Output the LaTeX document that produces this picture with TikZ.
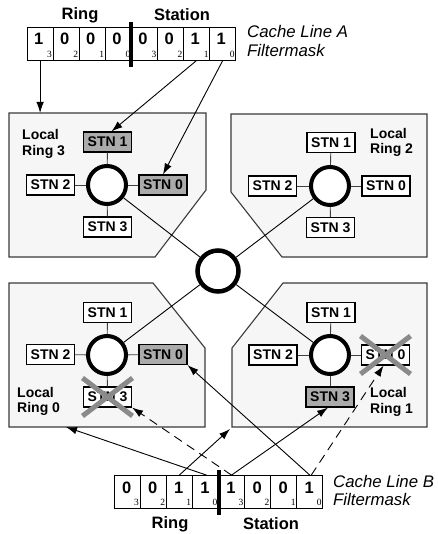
\documentclass[tikz,border=0pt]{standalone}
\usepackage{fontspec}
\setmainfont{Liberation Sans}
\newfontfamily\subserif{Liberation Serif}
\usetikzlibrary{arrows.meta,calc}
\definecolor{boxfill}{HTML}{F6F6F6}
\definecolor{boxline}{HTML}{3A3A3A}
\definecolor{stnfill}{HTML}{ABABAB}
\definecolor{xgray}{HTML}{8A8A8A}
\tikzset{
  lring/.style={draw=boxline, line width=1.1pt, fill=boxfill},
  stn/.style={draw=black, line width=1.1pt, fill=white, minimum width=48pt, minimum height=20pt, inner sep=0pt, font=\bfseries\fontsize{14}{16}\selectfont},
  stng/.style={stn, fill=stnfill},
  ringc/.style={circle, draw=black, line width=4pt, fill=white, minimum size=38pt, inner sep=0pt},
  spoke/.style={draw=black!75, line width=0.9pt},
  link/.style={draw=black, line width=0.9pt},
  arr/.style={draw=black, line width=0.9pt, -{Latex[length=11pt,width=7.5pt]}},
  darr/.style={arr, dash pattern=on 9pt off 6pt},
  xmark/.style={draw=xgray, line width=5pt},
  cell/.style={draw=black, line width=0.8pt, minimum width=26.1pt, minimum height=33pt, inner sep=0pt},
  digit/.style={font=\bfseries\fontsize{16.5}{18}\selectfont, inner sep=0pt},
  subsc/.style={font=\subserif\fontsize{9.5}{10}\selectfont, inner sep=0pt},
  hdr/.style={font=\bfseries\fontsize{16.5}{18}\selectfont, inner sep=0pt},
  lbl/.style={font=\bfseries\fontsize{14}{15}\selectfont, inner sep=0pt, anchor=base west},
  captxt/.style={font=\itshape\fontsize{16.8}{18}\selectfont, inner sep=0pt, anchor=base west},
  sepbar/.style={line width=4pt},
}
\begin{document}
\begin{tikzpicture}[x=1pt,y=-1pt]
\useasboundingbox (0,0) rectangle (437,534);

% local ring boxes
\draw[lring] (9,113) -- (206,113) -- (206,190) -- (155,257) -- (9,257) -- cycle;
\draw[lring] (231,114) -- (427,114) -- (427,257) -- (282,257) -- (231,192) -- cycle;
\draw[lring] (9,283) -- (153,283) -- (205,348) -- (205,427) -- (9,427) -- cycle;
\draw[lring] (283,283) -- (427,283) -- (427,427) -- (232,427) -- (232,348) -- cycle;

% rings
\node[ringc, minimum size=41pt, line width=4.5pt] (C) at (218,271) {};
\node[ringc] (R3) at (107,185) {};
\node[ringc] (R2) at (330,186) {};
\node[ringc] (R0) at (107,355) {};
\node[ringc] (R1) at (330,355) {};
\draw[link] (C) -- (R3);
\draw[link] (C) -- (R2);
\draw[link] (C) -- (R0);
\draw[link] (C) -- (R1);

% stations ring 3
\node[stng] (r3s1) at (107.5,142) {STN 1};
\node[stn]  (r3s2) at (50.5,185) {STN 2};
\node[stng] (r3s0) at (163,185) {STN 0};
\node[stn]  (r3s3) at (107.5,227) {STN 3};
% ring 2
\node[stn] (r2s1) at (331,142.5) {STN 1};
\node[stn] (r2s2) at (272.5,186) {STN 2};
\node[stn] (r2s0) at (386,186) {STN 0};
\node[stn] (r2s3) at (330.5,227.5) {STN 3};
% ring 0
\node[stn]  (r0s1) at (107.5,312.5) {STN 1};
\node[stn]  (r0s2) at (50.5,354.5) {STN 2};
\node[stng] (r0s0) at (163,354.5) {STN 0};
\node[stn]  (r0s3) at (107.5,397) {STN 3};
% ring 1
\node[stn]  (r1s1) at (331,312.5) {STN 1};
\node[stn]  (r1s2) at (273,355) {STN 2};
\node[stn]  (r1s0) at (385.5,355) {STN 0};
\node[stng] (r1s3) at (330,397) {STN 3};

\foreach \r in {3,2,0,1}{
  \foreach \s in {0,1,2,3}{
    \draw[spoke] (R\r) -- (r\r s\s);
  }
}

% labels
\node[lbl] (l3a) at (22,140) {Local};
\node[lbl] (l3b) at (22,156) {Ring 3};
\node[lbl] (l2a) at (370,138.5) {Local};
\node[lbl] (l2b) at (370,154) {Ring 2};
\node[lbl] (l0a) at (17,397.5) {Local};
\node[lbl] (l0b) at (17,412) {Ring 0};
\node[lbl] (l1a) at (370,397.5) {Local};
\node[lbl] (l1b) at (370,413) {Ring 1};

% register A
\foreach \i/\d/\s in {0/1/3,1/0/2,2/0/1,3/0/0,4/0/3,5/0/2,6/1/1,7/1/0}{
  \node[cell] (a\i) at ({40.1+26.1*\i},43.5) {};
  \node[digit] (da\i) at ($(a\i.center)+(-1.5,-4.5)$) {\d};
  \node[subsc] (sa\i) at ($(a\i.center)+(9.5,10.5)$) {\s};
}
\coordinate (abt) at (131,22);
\coordinate (abb) at (131,67);
\draw[sepbar] (abt) -- (abb);
\node[hdr] (ringA) at (80,15) {Ring};
\node[hdr] (statA) at (182,15) {Station};
\node[captxt] (cA1) at (247,38) {Cache Line A};
\node[captxt] (cA2) at (247,56.5) {Filtermask};

% register B
\foreach \i/\d/\s in {0/0/3,1/0/2,2/1/1,3/1/0,4/1/3,5/0/2,6/0/1,7/1/0}{
  \node[cell] (b\i) at ({127.1+26.1*\i},492) {};
  \node[digit] (db\i) at ($(b\i.center)+(-0.5,-4.5)$) {\d};
  \node[subsc] (sb\i) at ($(b\i.center)+(9.5,10.5)$) {\s};
}
\coordinate (bbt) at (219,470);
\coordinate (bbb) at (219,515);
\draw[sepbar] (bbt) -- (bbb);
\node[hdr] (ringB) at (170,524) {Ring};
\node[hdr] (statB) at (271,524) {Station};
\node[captxt] (cB1) at (333,487) {Cache Line B};
\node[captxt] (cB2) at (333,505) {Filtermask};

% arrow targets on boxes
\coordinate (r3top) at (40.1,113);
\coordinate (r0bot) at (66,427);
\coordinate (r1cor) at (230,429);

% arrows from A
\draw[arr] (a0.south) -- (r3top);
\draw[arr] (a6.south) -- ($(r3s1.north)+(4,0)$);
\draw[arr] (a7.south) -- (r3s0.north);

% arrows from B
\draw[arr] ($(b3.north)+(1,0)$) -- (r0bot);
\draw[arr] (b2.north) -- (r1cor);
\draw[darr] (b4.north) -- (r0s3.south east);
\draw[arr] (b4.north) -- ($(r1s3.south)+(-2,0)$);
\draw[arr] (b7.north) -- (r0s0.south east);
\draw[darr] ($(b7.north)+(1.5,0)$) -- ($(r1s0.south)+(-2,0)$);

% crosses
\draw[xmark] ($(r0s3.center)+(-25,-19)$) -- ($(r0s3.center)+(25,19)$);
\draw[xmark] ($(r0s3.center)+(-25,19)$) -- ($(r0s3.center)+(25,-19)$);
\draw[xmark] ($(r1s0.center)+(-25,-19)$) -- ($(r1s0.center)+(25,19)$);
\draw[xmark] ($(r1s0.center)+(-25,19)$) -- ($(r1s0.center)+(25,-19)$);
\end{tikzpicture}
\end{document}
